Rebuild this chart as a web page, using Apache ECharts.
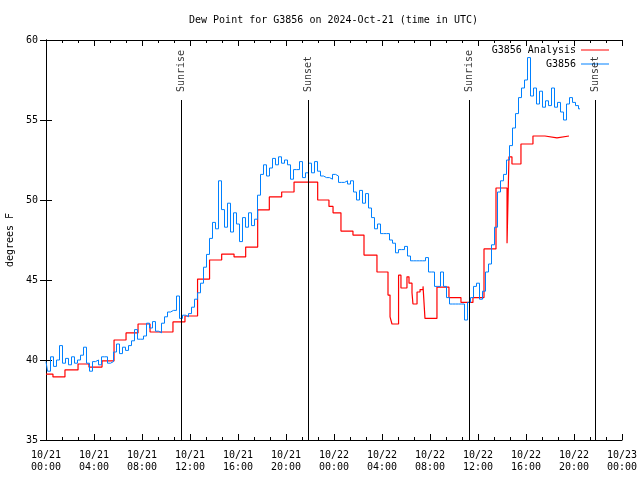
<!DOCTYPE html>
<html><head><meta charset="utf-8">
<script src="https://cdn.jsdelivr.net/npm/echarts@6/dist/echarts.min.js"></script>
<style>html,body{margin:0;padding:0;background:#fff}#c{width:640px;height:480px}</style>
</head><body><div id="c"></div>
<script>
// ---- data ----
const titleText = 'Dew Point for G3856 on 2024-Oct-21 (time in UTC)';
const xTickLabels = ['10/21\n00:00','10/21\n04:00','10/21\n08:00','10/21\n12:00','10/21\n16:00','10/21\n20:00',
  '10/22\n00:00','10/22\n04:00','10/22\n08:00','10/22\n12:00','10/22\n16:00','10/22\n20:00','10/23\n00:00'];
// hours since 10/21 00:00 UTC at which the analysis value changes
const analysisTimes = [0,0.58,1.58,2.67,3.58,4.67,5.67,6.67,7.67,8.67,10.58,11.58,12.63,13.63,14.64,15.67,16.64,17.64,18.61,19.64,
  20.67,22.64,23.58,23.92,24.58,25.58,26.5,27.58,28.5,28.67,28.83,29.38,29.58,30.08,30.25,30.5,30.58,30.92,31.17,31.42,
  31.58,32.58,33.58,34.58,35.58,36.5,37.5,38.42,38.58,38.83,39.58,40.58,41.58,42.58,43.58];
const analysisValues = [39.12,38.94,39.38,39.75,39.56,39.94,41.25,41.69,42.25,41.75,42.38,42.75,45.06,46.25,46.62,46.44,47.06,49.38,50.19,50.5,
  51.12,50.0,49.6,49.2,48.06,47.81,46.56,45.5,44.06,42.7,42.25,45.3,44.5,45.2,44.8,44.2,43.5,44.25,44.4,44.6,
  42.6,44.56,43.9,43.6,43.9,46.94,50.75,47.3,52.7,52.25,53.5,54.0,53.88,54.0,54.0];
// station observations, one value every 15 minutes from 10/21 00:00
const obsStepHours = 0.25;
const obsValues = [
  39.9,39.3,40.2,39.6, 40.0,40.9,39.8,40.1, 39.7,40.2,39.8,40.0, 40.3,40.8,39.8,39.3,
  39.9,40.0,39.7,40.2, 40.2,39.8,39.9,40.5, 41.0,40.4,40.8,40.6, 40.9,41.2,41.9,41.3,
  41.3,41.5,42.3,42.0, 42.4,41.8,41.7,42.3, 42.7,43.0,43.1,43.1, 44.0,42.6,42.8,42.7,
  42.9,43.3,43.8,44.2, 44.8,45.8,46.6,47.6, 48.6,48.2,51.2,49.4, 48.3,49.8,48.0,49.2,
  48.5,47.4,48.9,48.3, 49.2,48.4,48.8,50.3, 51.6,52.2,51.5,52.0, 52.6,52.2,52.7,52.3,
  52.5,52.2,51.3,51.9, 51.9,52.4,51.4,51.7, 52.3,51.7,52.4,51.8, 51.5,51.4,51.4,51.3,
  51.6,51.5,51.1,51.1, 51.2,51.0,51.2,50.5, 50.0,50.6,49.8,50.4, 49.5,48.9,48.2,48.5,
  47.9,47.9,47.9,47.5, 47.3,46.7,46.9,46.9, 47.1,46.5,46.2,46.2, 46.2,46.2,46.2,46.4,
  45.5,45.5,44.6,44.6, 45.5,44.6,43.9,43.5, 43.5,43.5,43.5,43.5, 42.5,43.6,43.9,44.6,
  44.8,43.8,44.3,45.5, 46.0,47.2,48.3,50.5, 51.2,51.6,52.5,53.4, 54.5,55.4,56.4,57.0,
  57.5,58.9,56.5,57.0, 56.0,56.8,55.8,56.2, 55.9,57.0,55.8,56.1, 55.5,55.0,56.0,56.4,
  56.1,55.9,55.7];
const sunTimes = [11.31, 21.86, 35.27, 45.81];
const sunLabels = ['Sunrise', 'Sunset', 'Sunrise', 'Sunset'];
const sunLineTop = 56.25;
const yMin = 35, yMax = 60, yStep = 5;
const xMin = 0, xMax = 48, xStep = 4;

// ---- chart ----
const FONT = 'DejaVu Sans Mono';
const analysisData = analysisTimes.map((t, i) => [t, analysisValues[i]]);
const obsData = obsValues.map((v, i) => [i * obsStepHours, v]);
const sunData = sunTimes.map((t, i) => ({ value: [t, sunLineTop], name: sunLabels[i] }));
const sunLines = sunTimes.map(t => [{ coord: [t, yMin] }, { coord: [t, sunLineTop] }]);

const axisCommon = {
  axisLine: { show: true, lineStyle: { color: '#000', width: 1 } },
  axisTick: { show: true, inside: true, length: 6, lineStyle: { color: '#000' } },
  splitLine: { show: false }
};
const chart = echarts.init(document.getElementById('c'), null, { renderer: 'canvas' });
chart.setOption({
  animation: false,
  backgroundColor: '#fff',
  title: { text: titleText, left: 184, top: 10, padding: 5,
    textStyle: { fontFamily: FONT, fontSize: 10, fontWeight: 'normal', color: '#000' } },
  legend: {
    data: ['G3856 Analysis', 'G3856'], orient: 'vertical', right: 26, top: 39,
    align: 'right', icon: 'rect', itemWidth: 28, itemHeight: 1, itemGap: 2,
    textStyle: { fontFamily: FONT, fontSize: 10, color: '#000', width: 86, align: 'right', lineHeight: 12 }
  },
  grid: { left: 46, right: 18, top: 40, bottom: 40, containLabel: false, outerBoundsMode: 'none' },
  xAxis: [
    Object.assign({ type: 'value', min: xMin, max: xMax, interval: xStep, position: 'bottom',
      minorTick: { show: true, splitNumber: 3, length: 3, lineStyle: { color: '#000' } },
      axisLabel: { fontFamily: FONT, fontSize: 10, color: '#000', lineHeight: 12, margin: 9,
        showMinLabel: true, showMaxLabel: true,
        formatter: v => xTickLabels[Math.round((v - xMin) / xStep)] } }, axisCommon),
    Object.assign({ type: 'value', min: xMin, max: xMax, interval: xStep, position: 'top',
      minorTick: { show: true, splitNumber: 3, length: 3, lineStyle: { color: '#000' } },
      axisLabel: { show: false } }, axisCommon)
  ],
  yAxis: [
    Object.assign({ type: 'value', min: yMin, max: yMax, interval: yStep, position: 'left',
      name: 'degrees F', nameLocation: 'middle', nameRotate: 90, nameGap: 31,
      nameTextStyle: { fontFamily: FONT, fontSize: 10, color: '#000' },
      axisLabel: { fontFamily: FONT, fontSize: 10, color: '#000', margin: 8 } }, axisCommon),
    Object.assign({ type: 'value', min: yMin, max: yMax, interval: yStep, position: 'right',
      axisLabel: { show: false } }, axisCommon)
  ],
  series: [
    { name: 'G3856 Analysis', type: 'line', data: analysisData, step: 'end', showSymbol: false,
      color: '#ff0000', lineStyle: { color: '#ff0000', width: 1.2 }, z: 3 },
    { name: 'G3856', type: 'line', data: obsData, step: 'middle', showSymbol: false,
      color: '#0080ff', lineStyle: { color: '#0080ff', width: 1 }, z: 4 },
    { name: 'sun', type: 'scatter', data: sunData, symbolSize: 0, silent: true, z: 5,
      label: { show: true, position: 'top', distance: 8, rotate: 90, align: 'left', verticalAlign: 'middle',
        formatter: p => p.name, fontFamily: FONT, fontSize: 10, color: '#000' },
      markLine: { silent: true, symbol: 'none', label: { show: false },
        lineStyle: { color: '#000', width: 1, type: 'solid' }, data: sunLines } }
  ]
});
</script></body></html>
